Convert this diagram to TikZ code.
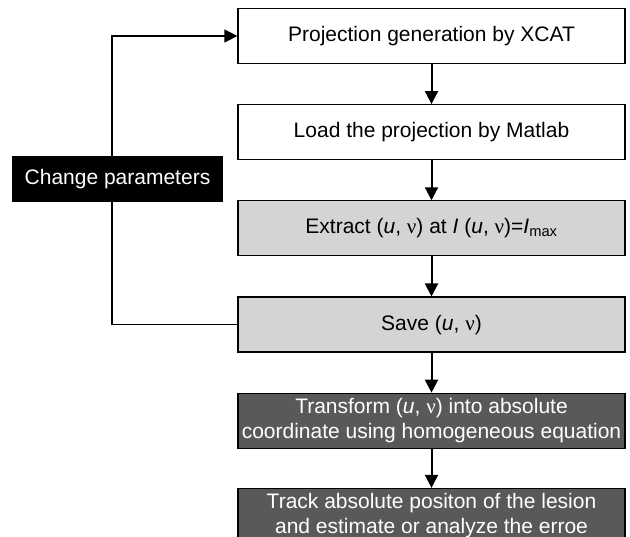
\documentclass[tikz,border=0pt]{standalone}
\usepackage{fontspec}
\setmainfont{Liberation Sans}
\newfontfamily\greekfont{Liberation Serif}
\usetikzlibrary{positioning,arrows.meta}

\newcommand{\uv}{(\textit{u}, {\greekfont ν})}

\begin{document}
\begin{tikzpicture}[x=1pt,y=1pt]
\tikzstyle{stepbox}=[rectangle, draw, line width=1.2pt, minimum width=387pt, minimum height=55pt, align=center, inner sep=2pt, font=\fontsize{21}{25}\selectfont]
\tikzstyle{plain}=[stepbox, fill=white]
\tikzstyle{light}=[stepbox, fill=black!17]
\tikzstyle{dark}=[stepbox, fill=black!65, text=white]
\tikzstyle{flow}=[line width=2pt, -{Triangle[length=13pt,width=13pt]}]
\tikzstyle{loop}=[line width=1.3pt]

\useasboundingbox (0,0) rectangle (630,537);

\node[plain] (proj) at (431.5,501) {Projection generation by XCAT};
\node[plain, below=40pt of proj] (load) {Load the projection by Matlab};
\node[light, below=40pt of load] (extract) {Extract \uv{} at \textit{I} \uv=\textit{I}\textsubscript{max}};
\node[light, below=40pt of extract] (save) {Save \uv};
\node[dark, below=40pt of save] (trans) {Transform \uv{} into absolute\\coordinate using homogeneous equation};
\node[dark, below=39pt of trans] (track) {Track absolute positon of the lesion\\and estimate or analyze the erroe};

\node[fill=black, text=white, minimum width=211pt, minimum height=46pt, inner sep=2pt, font=\fontsize{21}{25}\selectfont] (change) at (117.5,358) {Change parameters};

\draw[flow] (proj) -- (load);
\draw[flow] (load) -- (extract);
\draw[flow] (extract) -- (save);
\draw[flow] (save) -- (trans);
\draw[flow] (trans) -- (track);

% feedback loop
\draw[loop] (save.west) -| ([xshift=-5.5pt]change.south);
\draw[loop, -{Triangle[length=13pt,width=13pt]}] ([xshift=-5.5pt]change.north) |- (proj.west);
\end{tikzpicture}
\end{document}
